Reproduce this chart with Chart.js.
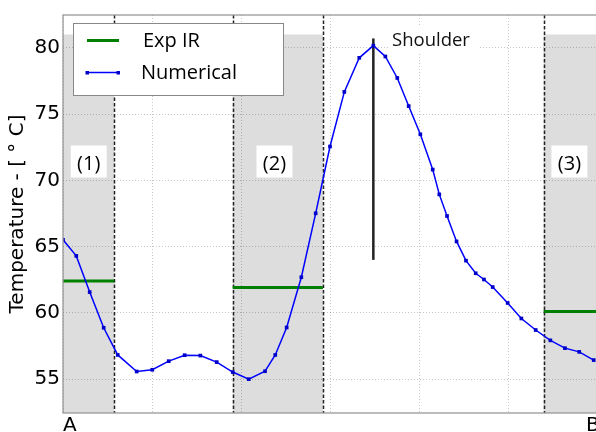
<!DOCTYPE html>
<html>
<head>
<meta charset="utf-8">
<script src="https://cdn.jsdelivr.net/npm/chart.js@4.4.1/dist/chart.umd.min.js"></script>
<style>
  html, body { margin: 0; padding: 0; background: #fff; overflow: hidden; }
  #wrap { width: 620px; height: 432px; }
</style>
</head>
<body>
<div id="wrap"><canvas id="chart" width="620" height="432"></canvas></div>
<script>
// position along the A-B line (plot units, A = 0, B = 6) and computed temperature
const numX = [0, 0.149, 0.30, 0.457, 0.615, 0.828, 1.003, 1.188, 1.367, 1.543, 1.727,
              1.907, 2.087, 2.27, 2.385, 2.513, 2.678, 2.839, 3.0, 3.161, 3.329, 3.487,
              3.622, 3.756, 3.884, 4.015, 4.154, 4.228, 4.315, 4.422, 4.528, 4.637,
              4.73, 4.828, 4.996, 5.15, 5.311, 5.476, 5.64, 5.80, 5.963];
const numY = [65.52, 64.30, 61.57, 58.88, 56.83, 55.58, 55.71, 56.36, 56.81, 56.78, 56.29,
              55.54, 55.00, 55.60, 56.83, 58.90, 62.69, 67.51, 72.55, 76.67, 79.24, 80.16,
              79.34, 77.72, 75.60, 73.47, 70.81, 68.94, 67.31, 65.39, 63.94, 62.99,
              62.52, 61.95, 60.75, 59.58, 58.71, 57.93, 57.34, 57.06, 56.44];

// IR camera windows: start, end and mean measured temperature
const expStart = [0, 1.907, 5.40];
const expEnd = [0.576, 2.92, 6];
const expTemp = [62.4, 61.92, 60.1];
const regionNames = ['(1)', '(2)', '(3)'];
const shadeTop = 81;

// shoulder marker
const shoulderX = [3.487, 3.487];
const shoulderY = [64.0, 80.7];

const yTicks = [55, 60, 65, 70, 75, 80];
const xTicks = [0, 1, 2, 3, 4, 5, 6];
const endLabels = ['A', 'B'];

const FONT_AX = 'DejaVu Sans';
const FONT_TXT = 'Open Sans';

// green segments, broken between the windows
const expData = [];
expStart.forEach((s, i) => {
    expData.push({x: s, y: expTemp[i]}, {x: expEnd[i], y: expTemp[i]}, {x: expEnd[i], y: null});
});

const backdrop = {
    id: 'backdrop',
    beforeDraw(chart) {
        const {ctx, chartArea: a, scales: {x, y}} = chart;
        ctx.save();
        ctx.fillStyle = '#fff';
        ctx.fillRect(0, 0, chart.width, chart.height);
        // grey window bands
        ctx.fillStyle = '#dddddd';
        const top = y.getPixelForValue(shadeTop);
        expStart.forEach((s, i) => {
            const l = x.getPixelForValue(s);
            const r = Math.min(x.getPixelForValue(expEnd[i]), a.right);
            ctx.fillRect(l, top, r - l, a.bottom - top);
        });
        ctx.restore();
    },
    beforeDatasetsDraw(chart) {
        const {ctx, chartArea: a, scales: {x}} = chart;
        ctx.save();
        ctx.strokeStyle = '#222';
        ctx.lineWidth = 1.5;
        ctx.setLineDash([3.5, 2]);
        const edges = [];
        expStart.forEach((s, i) => { edges.push(s, expEnd[i]); });
        edges.filter(v => v > 0 && v < 6).forEach(v => {
            const px = Math.round(x.getPixelForValue(v)) + 0.5;
            ctx.beginPath();
            ctx.moveTo(px, a.top);
            ctx.lineTo(px, a.bottom);
            ctx.stroke();
        });
        ctx.restore();
    },
    afterDatasetsDraw(chart) {
        const {ctx, scales: {x, y}} = chart;
        ctx.save();
        // window numbers in white boxes
        const labelX = [0.289, 2.376, 5.69];
        ctx.font = '20px "' + FONT_TXT + '"';
        ctx.textAlign = 'center';
        ctx.textBaseline = 'alphabetic';
        regionNames.forEach((t, i) => {
            const cx = x.getPixelForValue(labelX[i]);
            const cy = y.getPixelForValue(71.42);
            ctx.fillStyle = '#fff';
            ctx.fillRect(cx - 18, cy - 16, 36, 32);
            ctx.fillStyle = '#000';
            ctx.fillText(t, cx, cy + 8.3);
        });
        // shoulder caption
        const sx = x.getPixelForValue(3.697);
        const sy = y.getPixelForValue(80.13);
        ctx.fillStyle = '#fff';
        ctx.fillRect(sx - 2, sy - 20, 88, 26);
        ctx.fillStyle = '#111';
        ctx.textAlign = 'left';
        ctx.font = '18.5px "' + FONT_TXT + '"';
        ctx.fillText('Shoulder', sx, sy);
        ctx.restore();
    },
    afterDraw(chart) {
        const {ctx, chartArea: a, scales: {x}} = chart;
        ctx.save();
        // frame
        ctx.strokeStyle = '#999';
        ctx.lineWidth = 1.3;
        ctx.strokeRect(a.left, a.top, a.right - a.left, a.bottom - a.top);
        // A / B ends
        ctx.fillStyle = '#000';
        ctx.font = '20px "' + FONT_AX + '"';
        ctx.textBaseline = 'alphabetic';
        ctx.textAlign = 'left';
        ctx.fillText(endLabels[0], x.getPixelForValue(0), 431);
        ctx.fillText(endLabels[1], x.getPixelForValue(6) - 11, 431);
        // legend
        ctx.fillStyle = '#fff';
        ctx.fillRect(73, 23, 210, 72);
        ctx.strokeStyle = '#888';
        ctx.lineWidth = 1;
        ctx.strokeRect(73.5, 23.5, 210, 72);
        ctx.strokeStyle = '#008000';
        ctx.lineWidth = 3;
        ctx.beginPath(); ctx.moveTo(87, 40.5); ctx.lineTo(119, 40.5); ctx.stroke();
        ctx.strokeStyle = '#0000ff';
        ctx.lineWidth = 1.5;
        ctx.beginPath(); ctx.moveTo(87, 72.5); ctx.lineTo(118, 72.5); ctx.stroke();
        ctx.fillStyle = '#0000cc';
        ctx.fillRect(85.5, 71, 3.5, 3.5);
        ctx.fillRect(116.5, 71, 3.5, 3.5);
        ctx.fillStyle = '#000';
        ctx.font = '20px "' + FONT_TXT + '"';
        ctx.fillText('Exp IR', 143, 46.5);
        ctx.fillText('Numerical', 141, 79.3);
        ctx.restore();
    }
};

const gridOpts = {
    color: 'rgba(0, 0, 0, 0.22)',
    lineWidth: 1,
    drawTicks: false
};

const ctx = document.getElementById('chart').getContext('2d');
new Chart(ctx, {
    type: 'line',
    data: {
        datasets: [
            {
                label: 'Numerical',
                data: numX.map((v, i) => ({x: v, y: numY[i]})),
                borderColor: '#0000ff',
                borderWidth: 1.5,
                pointStyle: 'rect',
                pointRadius: 2.6,
                pointBackgroundColor: '#0000cc',
                pointBorderColor: '#0000cc',
                pointBorderWidth: 0,
                tension: 0
            },
            {
                label: 'Exp IR',
                data: expData,
                borderColor: '#008000',
                borderWidth: 3,
                pointRadius: 0,
                spanGaps: false
            },
            {
                label: 'Shoulder',
                data: shoulderX.map((v, i) => ({x: v, y: shoulderY[i]})),
                borderColor: '#222',
                borderWidth: 2.5,
                pointRadius: 0
            }
        ]
    },
    options: {
        responsive: false,
        animation: false,
        layout: { padding: { top: 12, right: 23, bottom: 0, left: 0 } },
        plugins: {
            legend: { display: false },
            tooltip: { enabled: false }
        },
        scales: {
            x: {
                type: 'linear',
                min: 0,
                max: 6,
                afterBuildTicks: s => { s.ticks = xTicks.map(v => ({value: v})); },
                afterFit: s => { s.height = 19; },
                ticks: { display: false },
                grid: gridOpts,
                border: { display: false, dash: [1, 2] }
            },
            y: {
                min: 52.45,
                max: 82.47,
                afterBuildTicks: s => { s.ticks = yTicks.map(v => ({value: v})); },
                afterFit: s => { s.width = 63; },
                ticks: {
                    color: '#000',
                    padding: 3,
                    font: { family: FONT_AX, size: 20 }
                },
                title: {
                    display: true,
                    text: 'Temperature - [ ° C]',
                    color: '#000',
                    font: { family: FONT_AX, size: 20 },
                    padding: { top: 6, bottom: 0 }
                },
                grid: gridOpts,
                border: { display: false, dash: [1, 2] }
            }
        }
    },
    plugins: [backdrop]
});
</script>
</body>
</html>
